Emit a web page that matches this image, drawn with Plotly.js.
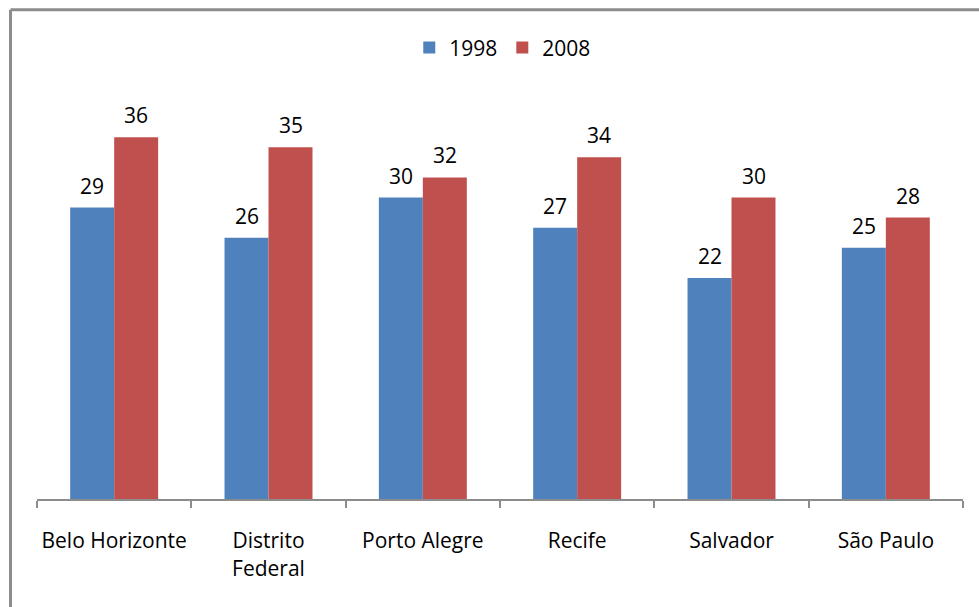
<!DOCTYPE html>
<html>
<head>
<meta charset="utf-8">
<script src="https://cdn.plot.ly/plotly-3.0.1.min.js"></script>
<style>
html,body{margin:0;padding:0;background:#fff;}
#chart{width:979px;height:607px;}
</style>
</head>
<body>
<div id="chart"></div>
<script>
const categories = ["Belo Horizonte", "Distrito<br>Federal", "Porto Alegre", "Recife", "Salvador", "São Paulo"];
const series1998 = [29, 26, 30, 27, 22, 25];
const series2008 = [36, 35, 32, 34, 30, 28];
const seriesNames = ["1998", "2008"];

const FONT = "Open Sans, Liberation Sans, sans-serif";
const FS = 21;
const blue = "#4F81BD";
const red = "#C0504D";

const traces = [
  {type: "bar", name: seriesNames[0], x: categories, y: series1998, marker: {color: blue}, hoverinfo: "none"},
  {type: "bar", name: seriesNames[1], x: categories, y: series2008, marker: {color: red}, hoverinfo: "none"}
];

const annotations = [];
[series1998, series2008].forEach((vals, si) => {
  vals.forEach((v, i) => {
    annotations.push({
      x: categories[i], y: v, xref: "x", yref: "y",
      text: String(v), showarrow: false,
      xshift: si === 0 ? -22 : 22, yshift: 6,
      yanchor: "bottom", xanchor: "center",
      font: {family: FONT, size: FS, color: "#000"}
    });
  });
});

const layout = {
  width: 979, height: 607,
  margin: {l: 37, r: 16, t: 97, b: 108},
  paper_bgcolor: "#fff", plot_bgcolor: "#fff",
  barmode: "group", bargap: 0.43, bargroupgap: 0,
  font: {family: FONT, size: FS, color: "#000"},
  showlegend: true,
  legend: {orientation: "h", x: 0.503, xanchor: "center", y: 1.122, yanchor: "middle",
           font: {family: FONT, size: FS, color: "#000"}, traceorder: "normal", itemwidth: 30},
  xaxis: {
    type: "category", showline: true, linecolor: "#8c8c8c", linewidth: 2,
    ticks: "outside", tickson: "boundaries", ticklen: 7, tickwidth: 2, tickcolor: "#8c8c8c",
    showgrid: false, zeroline: false, ticklabelstandoff: 22, tickangle: 0, automargin: false,
    tickfont: {family: FONT, size: FS, color: "#000"}
  },
  yaxis: {range: [0, 40], visible: false, showgrid: false, zeroline: false},
  annotations: annotations,
  shapes: [
    {type: "line", xref: "paper", yref: "paper", x0: -0.0286, x1: 1.1, y0: 1.217, y1: 1.217, line: {color: "#8c8c8c", width: 3}},
    {type: "line", xref: "paper", yref: "paper", x0: -0.0286, x1: -0.0286, y0: 1.217, y1: -0.3, line: {color: "#8c8c8c", width: 3}}
  ]
};

Plotly.newPlot("chart", traces, layout, {displayModeBar: false, staticPlot: true});
</script>
</body>
</html>
